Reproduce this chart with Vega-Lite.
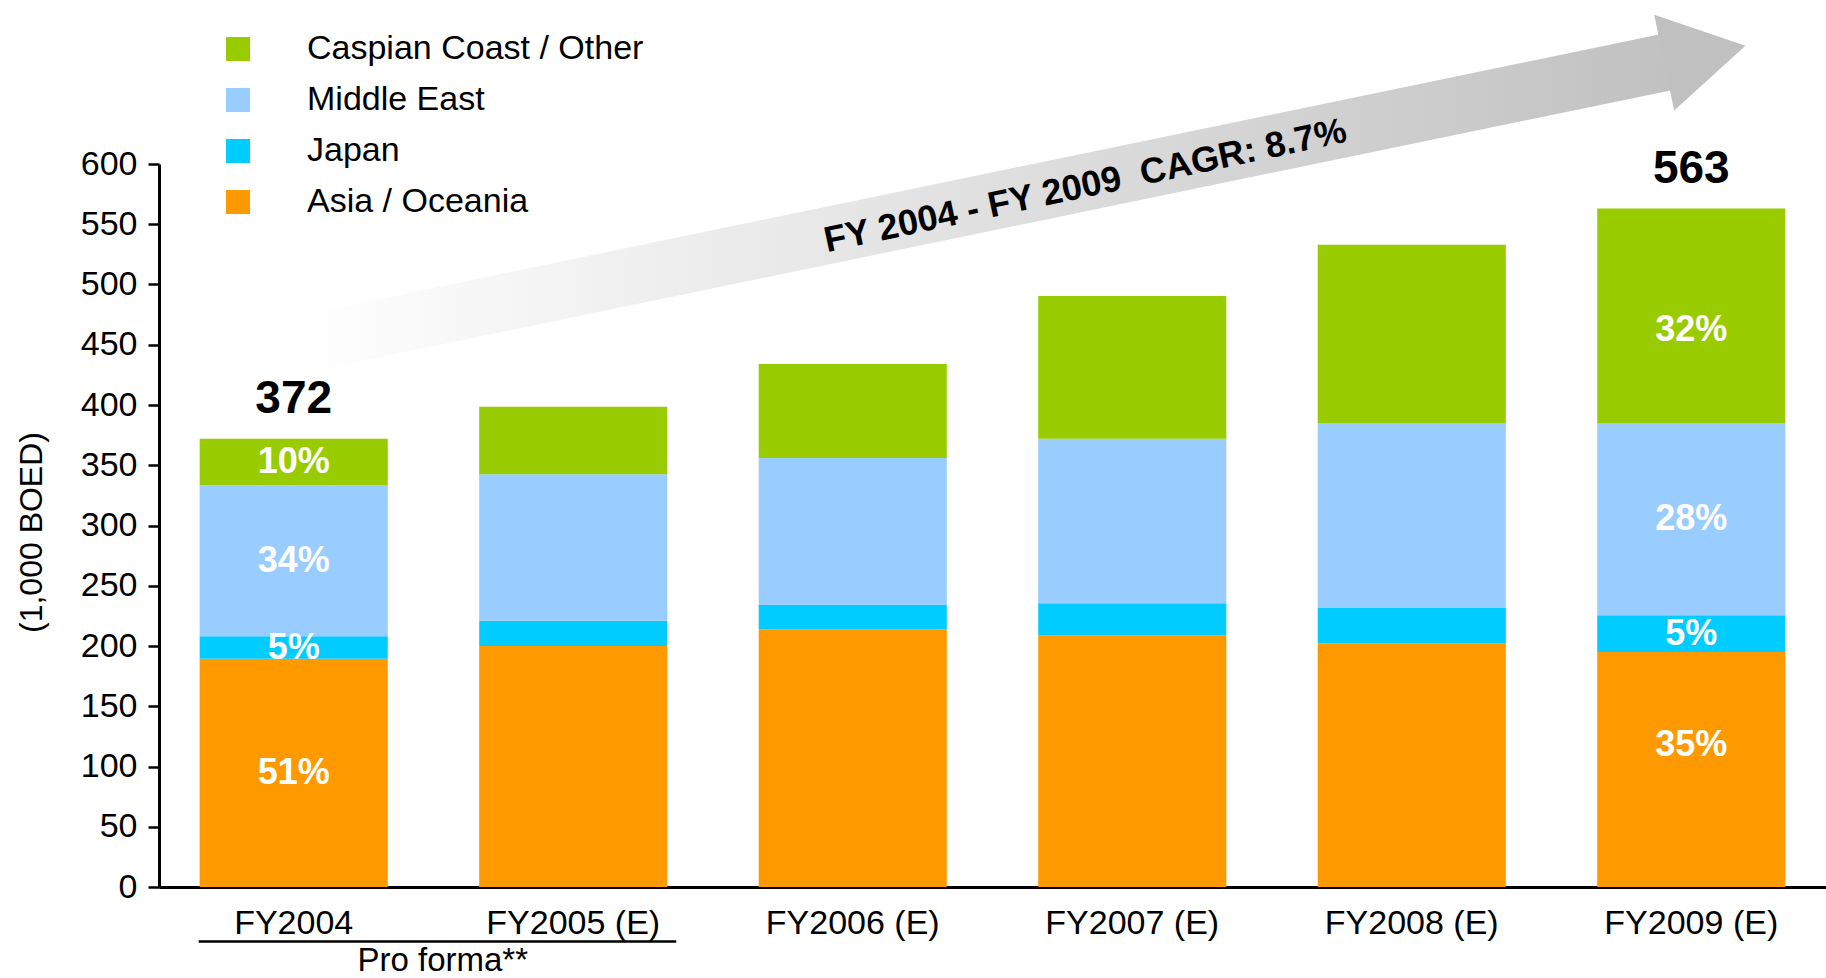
{
  "$schema": "https://vega.github.io/schema/vega-lite/v6.json",
  "width": 1667,
  "height": 723,
  "autosize": {"type": "none"},
  "padding": {"left": 159, "top": 164, "right": 0, "bottom": 91},
  "background": "white",
  "config": {
    "font": "Liberation Sans",
    "view": {"stroke": null},
    "axisY": {
      "labelFontSize": 34,
      "labelColor": "black",
      "labelPadding": 11,
      "tickSize": 11,
      "tickWidth": 2.5,
      "tickColor": "black",
      "domainColor": "black",
      "domainWidth": 3,
      "grid": false,
      "titleFontSize": 32,
      "titleFontWeight": "normal",
      "titleColor": "black",
      "titleX": -128,
      "titleY": 368,
      "titleAngle": 270,
      "titleAlign": "center",
      "titleBaseline": "middle"
    }
  },
  "datasets": {
    "regions": [
      {"year": "FY2004", "region": "Asia / Oceania", "rank": 1, "value": 189.5, "pct": "51%"},
      {"year": "FY2004", "region": "Japan", "rank": 2, "value": 18.5, "pct": "5%"},
      {"year": "FY2004", "region": "Middle East", "rank": 3, "value": 125.5, "pct": "34%"},
      {"year": "FY2004", "region": "Caspian Coast / Other", "rank": 4, "value": 38.5, "pct": "10%"},
      {"year": "FY2005 (E)", "region": "Asia / Oceania", "rank": 1, "value": 200, "pct": ""},
      {"year": "FY2005 (E)", "region": "Japan", "rank": 2, "value": 21, "pct": ""},
      {"year": "FY2005 (E)", "region": "Middle East", "rank": 3, "value": 121.5, "pct": ""},
      {"year": "FY2005 (E)", "region": "Caspian Coast / Other", "rank": 4, "value": 56, "pct": ""},
      {"year": "FY2006 (E)", "region": "Asia / Oceania", "rank": 1, "value": 214, "pct": ""},
      {"year": "FY2006 (E)", "region": "Japan", "rank": 2, "value": 20, "pct": ""},
      {"year": "FY2006 (E)", "region": "Middle East", "rank": 3, "value": 122, "pct": ""},
      {"year": "FY2006 (E)", "region": "Caspian Coast / Other", "rank": 4, "value": 78, "pct": ""},
      {"year": "FY2007 (E)", "region": "Asia / Oceania", "rank": 1, "value": 209, "pct": ""},
      {"year": "FY2007 (E)", "region": "Japan", "rank": 2, "value": 26.5, "pct": ""},
      {"year": "FY2007 (E)", "region": "Middle East", "rank": 3, "value": 136.5, "pct": ""},
      {"year": "FY2007 (E)", "region": "Caspian Coast / Other", "rank": 4, "value": 118.5, "pct": ""},
      {"year": "FY2008 (E)", "region": "Asia / Oceania", "rank": 1, "value": 202, "pct": ""},
      {"year": "FY2008 (E)", "region": "Japan", "rank": 2, "value": 29.5, "pct": ""},
      {"year": "FY2008 (E)", "region": "Middle East", "rank": 3, "value": 153.5, "pct": ""},
      {"year": "FY2008 (E)", "region": "Caspian Coast / Other", "rank": 4, "value": 148, "pct": ""},
      {"year": "FY2009 (E)", "region": "Asia / Oceania", "rank": 1, "value": 195, "pct": "35%"},
      {"year": "FY2009 (E)", "region": "Japan", "rank": 2, "value": 30.5, "pct": "5%"},
      {"year": "FY2009 (E)", "region": "Middle East", "rank": 3, "value": 159.5, "pct": "28%"},
      {"year": "FY2009 (E)", "region": "Caspian Coast / Other", "rank": 4, "value": 178, "pct": "32%"}
    ],
    "totals": [
      {"year": "FY2004", "total": 372},
      {"year": "FY2009 (E)", "total": 563}
    ],
    "arrow": [
      {"year": "FY2004", "level": 449},
      {"year": "FY2009 (E)", "level": 688.8}
    ],
    "arrowhead": [
      {"year": "FY2009 (E)", "level": 688.8}
    ],
    "arrowtext": [
      {"year": "FY2007 (E)", "level": 590, "label": "FY 2004 - FY 2009\u00a0 CAGR: 8.7%"}
    ],
    "groups": [
      {"year": "FY2004", "end": "FY2005 (E)", "label": "Pro forma**"}
    ]
  },
  "encoding": {
    "x": {
      "field": "year",
      "type": "nominal",
      "title": null,
      "scale": {
        "domain": ["FY2004", "FY2005 (E)", "FY2006 (E)", "FY2007 (E)", "FY2008 (E)", "FY2009 (E)"],
        "paddingInner": 0.327,
        "paddingOuter": 0.1455
      },
      "axis": {
        "title": null,
        "labelFontSize": 34,
        "labelColor": "black",
        "labelAngle": 0,
        "labelPadding": 19,
        "labelLimit": 0,
        "ticks": false,
        "tickSize": 0,
        "domainColor": "black",
        "domainWidth": 3,
        "grid": false
      }
    }
  },
  "layer": [
    {
      "data": {"name": "regions"},
      "mark": {"type": "bar"},
      "encoding": {
        "y": {
          "field": "value",
          "type": "quantitative",
          "stack": "zero",
          "title": "(1,000 BOED)",
          "scale": {"domain": [0, 600], "nice": false},
          "axis": {"title": "(1,000 BOED)", "values": [0, 50, 100, 150, 200, 250, 300, 350, 400, 450, 500, 550, 600]}
        },
        "color": {
          "field": "region",
          "type": "nominal",
          "scale": {
            "domain": ["Caspian Coast / Other", "Middle East", "Japan", "Asia / Oceania"],
            "range": ["#99CC00", "#99CCFF", "#00CCFF", "#FF9900"]
          },
          "legend": {
            "title": null,
            "orient": "none",
            "legendX": 62,
            "legendY": -132,
            "padding": 0,
            "symbolType": "square",
            "symbolSize": 576,
            "symbolStrokeWidth": 0,
            "labelFontSize": 34,
            "labelColor": "black",
            "labelOffset": 52,
            "labelLimit": 0,
            "rowPadding": 17
          }
        },
        "order": {"field": "rank", "type": "quantitative"}
      }
    },
    {
      "data": {"name": "arrow"},
      "mark": {
        "type": "line",
        "strokeWidth": 57,
        "strokeCap": "butt",
        "color": {
          "gradient": "linear",
          "x1": 0, "y1": 0, "x2": 1, "y2": 0,
          "stops": [
            {"offset": 0, "color": "#ffffff"},
            {"offset": 1, "color": "#c0c0c0"}
          ]
        }
      },
      "encoding": {
        "y": {"field": "level", "type": "quantitative", "title": "(1,000 BOED)", "scale": {"domain": [0, 600], "nice": false}, "axis": {"title": "(1,000 BOED)", "values": [0, 50, 100, 150, 200, 250, 300, 350, 400, 450, 500, 550, 600]}}
      }
    },
    {
      "data": {"name": "arrowhead"},
      "mark": {
        "type": "point",
        "shape": "M-0.5,-0.886L1,0L-0.5,0.886Z",
        "size": 12232,
        "angle": 348.3,
        "filled": true,
        "color": "#c0c0c0",
        "opacity": 1,
        "strokeWidth": 0
      },
      "encoding": {
        "y": {"field": "level", "type": "quantitative", "title": "(1,000 BOED)", "scale": {"domain": [0, 600], "nice": false}, "axis": {"title": "(1,000 BOED)", "values": [0, 50, 100, 150, 200, 250, 300, 350, 400, 450, 500, 550, 600]}}
      }
    },
    {
      "data": {"name": "arrowtext"},
      "mark": {
        "type": "text",
        "angle": 348,
        "fontSize": 36,
        "fontWeight": "bold",
        "color": "black",
        "dx": -48,
        "align": "center",
        "baseline": "middle"
      },
      "encoding": {
        "y": {"field": "level", "type": "quantitative", "title": "(1,000 BOED)", "scale": {"domain": [0, 600], "nice": false}, "axis": {"title": "(1,000 BOED)", "values": [0, 50, 100, 150, 200, 250, 300, 350, 400, 450, 500, 550, 600]}},
        "text": {"field": "label", "type": "nominal"}
      }
    },
    {
      "data": {"name": "regions"},
      "mark": {"type": "text", "color": "white", "fontSize": 36, "fontWeight": "bold", "baseline": "middle", "align": "center"},
      "encoding": {
        "y": {
          "field": "value",
          "type": "quantitative",
          "stack": "zero",
          "bandPosition": 0.5,
          "title": "(1,000 BOED)",
          "scale": {"domain": [0, 600], "nice": false},
          "axis": {"title": "(1,000 BOED)", "values": [0, 50, 100, 150, 200, 250, 300, 350, 400, 450, 500, 550, 600]}
        },
        "detail": {"field": "region", "type": "nominal"},
        "order": {"field": "rank", "type": "quantitative"},
        "text": {
          "condition": {"test": "datum.pct == '32%' || datum.pct == '35%'", "value": ""},
          "field": "pct",
          "type": "nominal"
        }
      }
    },
    {
      "data": {"name": "regions"},
      "transform": [
        {"stack": "value", "groupby": ["year"], "sort": [{"field": "rank", "order": "ascending"}], "as": ["v0", "v1"]},
        {"filter": "datum.pct == '32%'"}
      ],
      "mark": {"type": "text", "color": "white", "fontSize": 36, "fontWeight": "bold", "baseline": "middle", "align": "center", "dy": -93},
      "encoding": {
        "y": {"field": "v0", "type": "quantitative", "title": "(1,000 BOED)", "scale": {"domain": [0, 600], "nice": false}, "axis": {"title": "(1,000 BOED)", "values": [0, 50, 100, 150, 200, 250, 300, 350, 400, 450, 500, 550, 600]}},
        "text": {"field": "pct", "type": "nominal"}
      }
    },
    {
      "data": {"name": "regions"},
      "transform": [
        {"stack": "value", "groupby": ["year"], "sort": [{"field": "rank", "order": "ascending"}], "as": ["v0", "v1"]},
        {"filter": "datum.pct == '35%'"}
      ],
      "mark": {"type": "text", "color": "white", "fontSize": 36, "fontWeight": "bold", "baseline": "middle", "align": "center", "dy": -142},
      "encoding": {
        "y": {"field": "v0", "type": "quantitative", "title": "(1,000 BOED)", "scale": {"domain": [0, 600], "nice": false}, "axis": {"title": "(1,000 BOED)", "values": [0, 50, 100, 150, 200, 250, 300, 350, 400, 450, 500, 550, 600]}},
        "text": {"field": "pct", "type": "nominal"}
      }
    },
    {
      "data": {"name": "totals"},
      "mark": {"type": "text", "fontSize": 46, "fontWeight": "bold", "color": "black", "baseline": "alphabetic", "align": "center", "dy": -26},
      "encoding": {
        "y": {"field": "total", "type": "quantitative", "title": "(1,000 BOED)", "scale": {"domain": [0, 600], "nice": false}, "axis": {"title": "(1,000 BOED)", "values": [0, 50, 100, 150, 200, 250, 300, 350, 400, 450, 500, 550, 600]}},
        "text": {"field": "total", "type": "quantitative"}
      }
    },
    {
      "data": {"name": "groups"},
      "mark": {"type": "rule", "color": "black", "strokeWidth": 2.5, "xOffset": -95, "x2Offset": 103},
      "encoding": {
        "x2": {"field": "end"},
        "y": {"datum": -45.2, "type": "quantitative", "title": "(1,000 BOED)", "scale": {"domain": [0, 600], "nice": false}, "axis": {"title": "(1,000 BOED)", "values": [0, 50, 100, 150, 200, 250, 300, 350, 400, 450, 500, 550, 600]}}
      }
    },
    {
      "data": {"name": "groups"},
      "mark": {"type": "text", "fontSize": 33, "color": "black", "dx": 149, "baseline": "alphabetic", "align": "center"},
      "encoding": {
        "y": {"datum": -69.5, "type": "quantitative", "title": "(1,000 BOED)", "scale": {"domain": [0, 600], "nice": false}, "axis": {"title": "(1,000 BOED)", "values": [0, 50, 100, 150, 200, 250, 300, 350, 400, 450, 500, 550, 600]}},
        "text": {"field": "label", "type": "nominal"}
      }
    }
  ]
}
